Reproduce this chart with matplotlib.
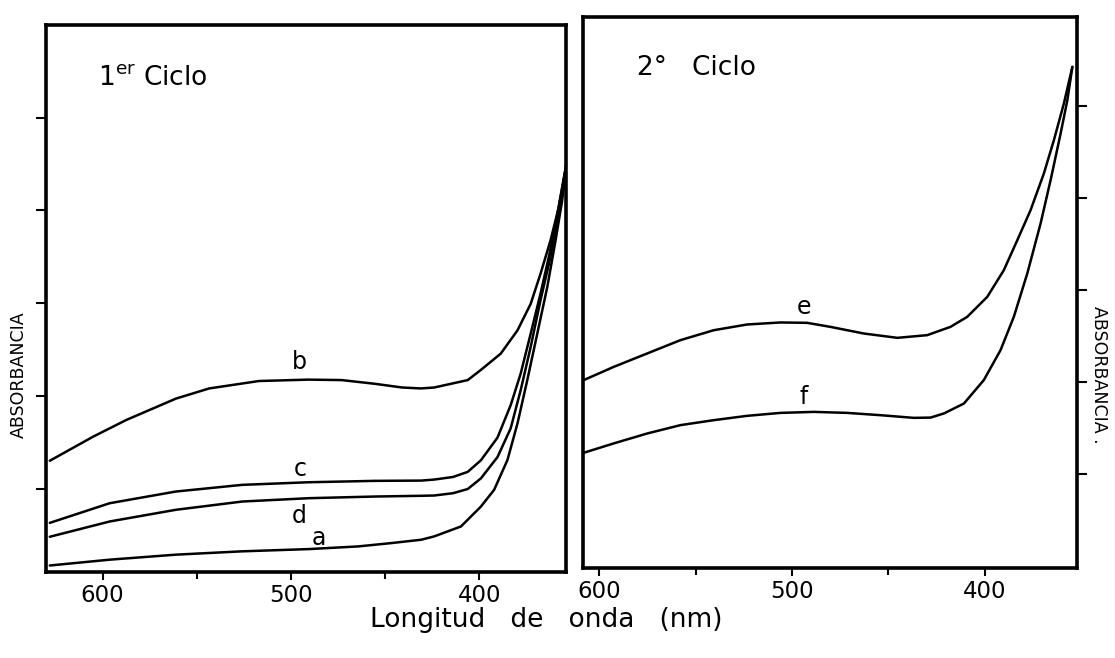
import numpy as np
import matplotlib
matplotlib.use("Agg")
import matplotlib.pyplot as plt

# ---- data (wavelength nm, absorbance arb. units) ----
# 1er ciclo
wl_a = [628, 596.2, 561.1, 525.9, 490.7, 464.3, 446.7, 430.9, 424.0, 409.8, 399.2,
        392.2, 385.1, 379.8, 374.6, 369.3, 364.0, 359.6, 356.1, 353.5]
abs_a = [0.017, 0.0233, 0.0287, 0.0323, 0.0347, 0.0376, 0.0412, 0.0448, 0.0484, 0.0591, 0.0806,
         0.0986, 0.1309, 0.1702, 0.2169, 0.267, 0.3172, 0.3674, 0.4104, 0.4538]

wl_b = [628, 605.0, 587.4, 561.1, 543.4, 517.0, 490.7, 473.1, 455.5, 441.0, 431.0,
        424.0, 406.2, 399.2, 388.7, 379.8, 372.8, 367.6, 362.3, 357.9, 353.5]
abs_b = [0.130, 0.156, 0.174, 0.197, 0.208, 0.216, 0.2175, 0.217, 0.213, 0.209, 0.208,
         0.209, 0.217, 0.228, 0.2455, 0.2706, 0.2992, 0.3315, 0.3674, 0.4032, 0.4538]

wl_c = [628, 596.2, 561.1, 525.9, 490.7, 455.5, 430.9, 424.0, 414.0, 406.2, 399.2, 390.4,
        383.4, 378.1, 372.8, 367.6, 363.2, 359.6, 353.5]
abs_c = [0.063, 0.0842, 0.0968, 0.1040, 0.1068, 0.1083, 0.1086, 0.1097, 0.1125, 0.118, 0.1305, 0.155,
         0.1900, 0.224, 0.267, 0.31, 0.3495, 0.3853, 0.4538]

wl_d = [628, 596.2, 561.1, 525.9, 490.7, 455.5, 430.9, 424.0, 414.0, 406.2, 399.2, 390.4,
        383.4, 378.1, 372.8, 367.6, 362.3, 358.7, 353.5]
abs_d = [0.048, 0.0645, 0.0771, 0.0860, 0.0896, 0.0914, 0.0922, 0.0925, 0.0950, 0.0995, 0.111, 0.134,
         0.1650, 0.2061, 0.2527, 0.3029, 0.3495, 0.3889, 0.4538]

# 2o ciclo
wl_e = [608.2, 592.6, 575.2, 557.9, 540.6, 523.3, 506.0, 492.1, 480.0, 462.7, 445.3,
        429.8, 417.7, 409.0, 398.6, 390.0, 383.0, 376.1, 369.2, 364.0, 358.8, 354.4]
abs_e = [0.2022, 0.2166, 0.2312, 0.2457, 0.2565, 0.2627, 0.2649, 0.2645, 0.2601, 0.2529, 0.2482,
         0.2511, 0.2601, 0.271, 0.2927, 0.3217, 0.3543, 0.387, 0.4268, 0.463, 0.503, 0.5427]

wl_f = [608.2, 592.6, 575.2, 557.9, 540.6, 523.3, 506.0, 488.7, 471.3, 454.0, 436.7,
        428.0, 421.1, 410.7, 400.4, 391.7, 384.8, 377.8, 370.9, 365.7, 360.5, 357.0, 354.4]
abs_f = [0.1232, 0.1334, 0.1442, 0.1533, 0.1587, 0.1634, 0.1666, 0.1677, 0.1666, 0.1641, 0.1612,
         0.1615, 0.166, 0.1768, 0.2022, 0.2348, 0.271, 0.3182, 0.3725, 0.4196, 0.4703, 0.5065, 0.5427]

labels_1 = ["b", "c", "d", "a"]
label_wl_1 = [495.3, 495.3, 495.8, 485.3]
label_abs_1 = [0.237, 0.1215, 0.0699, 0.0462]
labels_2 = ["e", "f"]
label_wl_2 = [494.0, 494.0]
label_abs_2 = [0.282, 0.184]

x_major = [600, 500, 400]
x_minor = [550, 450]
y_ticks = [0.1, 0.2, 0.3, 0.4, 0.5]

plt.rcParams["font.family"] = "DejaVu Sans"
fig = plt.figure(figsize=(11.15, 6.58), dpi=100)
ax1 = fig.add_axes([0.0413, 0.1307, 0.4664, 0.8313])
ax2 = fig.add_axes([0.5229, 0.1368, 0.4430, 0.8374])

lw = 1.8
for wl, ab in [(wl_a, abs_a), (wl_b, abs_b), (wl_c, abs_c), (wl_d, abs_d)]:
    ax1.plot(wl, ab, color="black", lw=lw, solid_joinstyle="round", solid_capstyle="round")
for wl, ab in [(wl_e, abs_e), (wl_f, abs_f)]:
    ax2.plot(wl, ab, color="black", lw=lw, solid_joinstyle="round", solid_capstyle="round")

for k, x, y in zip(labels_1, label_wl_1, label_abs_1):
    ax1.text(x, y, k, fontsize=17, ha="center", va="center")
for k, x, y in zip(labels_2, label_wl_2, label_abs_2):
    ax2.text(x, y, k, fontsize=17, ha="center", va="center")

ax1.set_xlim(630, 354)
ax1.set_ylim(0.010, 0.600)
ax2.set_xlim(608.5, 352)
ax2.set_ylim(-0.002, 0.597)

for ax in (ax1, ax2):
    for s in ax.spines.values():
        s.set_linewidth(2.6)
    ax.set_xticks(x_major)
    ax.set_xticks(x_minor, minor=True)
    ax.set_xticklabels([str(v) for v in x_major], fontsize=16.5)
    ax.tick_params(axis="x", which="major", direction="out", length=6, width=1.5, pad=3)
    ax.tick_params(axis="x", which="minor", direction="out", length=5, width=1.5)
    ax.set_yticks(y_ticks)
    ax.set_yticklabels([])

ax1.tick_params(axis="y", direction="out", length=7, width=1.5, left=True, right=False)
ax2.tick_params(axis="y", direction="out", length=7, width=1.5, left=False, right=True)

ax1.text(0.10, 0.89, r"1$^{\rm er}$ Ciclo", transform=ax1.transAxes, fontsize=19, va="baseline")
ax2.text(0.11, 0.895, "2°   Ciclo", transform=ax2.transAxes, fontsize=19, va="baseline")

fig.text(0.017, 0.43, "ABSORBANCIA", rotation=90, fontsize=12.5, ha="center", va="center")
fig.text(0.986, 0.43, "ABSORBANCIA .", rotation=-90, fontsize=12.5, ha="center", va="center")
fig.text(0.49, 0.057, "Longitud   de   onda   (nm)", fontsize=19, ha="center", va="center")

fig.savefig("out.png", dpi=100)
